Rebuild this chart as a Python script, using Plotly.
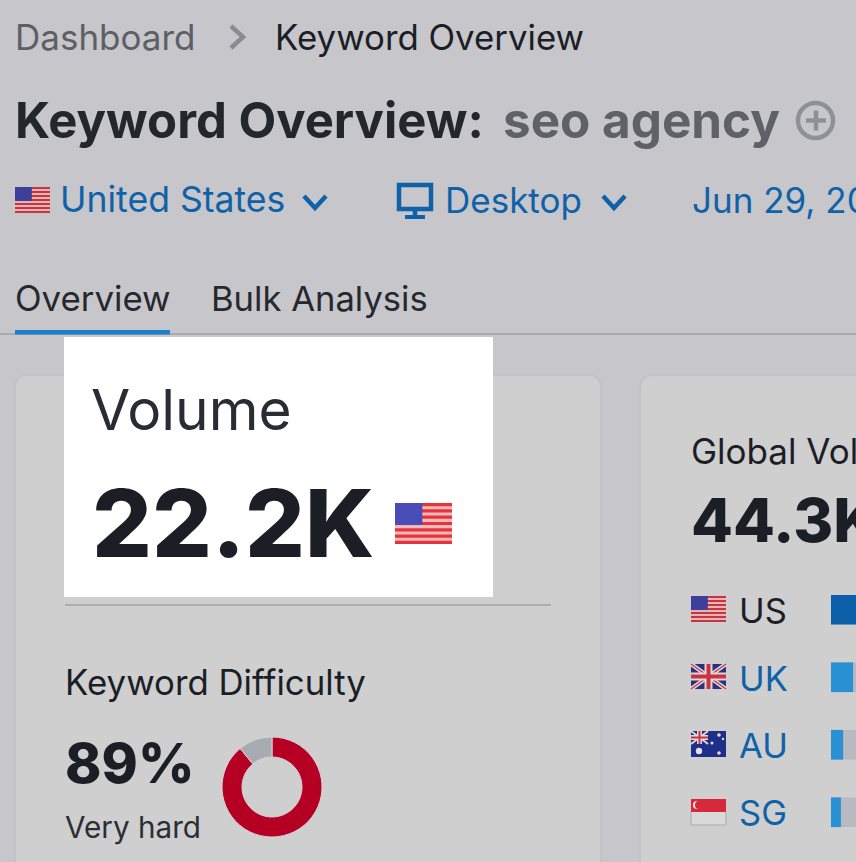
import plotly.graph_objects as go

# Data
difficulty_labels = ["Difficulty", "Remainder"]
difficulty_values = [89, 11]
countries = ["US", "UK", "AU", "SG"]
country_volume_k = [22.2, 4.9, 2.7, 2.2]
country_track_k = [22.2, 22.2, 22.2, 22.2]

FONT = "Inter"
DARK = "#1c1e26"
BLUE = "#0f62a8"
GREY = "#5e5f66"
PAD = 3  # annotation box padding

W, H = 856, 862
shapes, notes = [], []

def rect(x0, y0, x1, y1, color, layer="below"):
    shapes.append(dict(type="rect", x0=x0, y0=y0, x1=x1, y1=y1, xref="x", yref="y",
                       fillcolor=color, line_width=0, layer=layer))

def line(x0, y0, x1, y1, color, w=1.5, layer="below"):
    shapes.append(dict(type="line", x0=x0, y0=y0, x1=x1, y1=y1, xref="x", yref="y",
                       line=dict(color=color, width=w), layer=layer))

def polyline(pts, color, w=3):
    p = "M" + " L".join(f"{a},{b}" for a, b in pts)
    shapes.append(dict(type="path", path=p, xref="x", yref="y",
                       line=dict(color=color, width=w), layer="below"))

def card(x0, y0, x1, y1, r, fill, edge):
    p = (f"M{x0+r},{y0} L{x1-r},{y0} Q{x1},{y0} {x1},{y0+r} L{x1},{y1-r} Q{x1},{y1} {x1-r},{y1} "
         f"L{x0+r},{y1} Q{x0},{y1} {x0},{y1-r} L{x0},{y0+r} Q{x0},{y0} {x0+r},{y0} Z")
    shapes.append(dict(type="path", path=p, xref="x", yref="y", fillcolor=fill,
                       line=dict(color=edge, width=1.5), layer="below"))

def text(x, y, s, size, color=DARK, weight=400):
    notes.append(dict(x=x - PAD, y=y, xref="x", yref="y", text=s, showarrow=False, xanchor="left",
                      yanchor="middle", align="left",
                      font=dict(family=FONT, size=size, color=color, weight=weight)))

def flag_us(x0, y0, x1, y1, red="#c8343f", pale="#e4b6b6", navy="#3d3f9a"):
    rect(x0, y0, x1, y1, pale)
    n = 13
    h = (y1 - y0) / n
    for i in range(0, n, 2):
        rect(x0, y0 + i * h, x1, y0 + (i + 1) * h, red)
    rect(x0, y0, x0 + (x1 - x0) * 0.48, y0 + 7 * h, navy)

def flag_uk(x0, y0, x1, y1):
    rect(x0, y0, x1, y1, "#27337f")
    line(x0, y0, x1, y1, "#e3d5d8", 4)
    line(x0, y1, x1, y0, "#e3d5d8", 4)
    line(x0, y0, x1, y1, "#c8343f", 1.2)
    line(x0, y1, x1, y0, "#c8343f", 1.2)
    xc, yc = (x0 + x1) / 2, (y0 + y1) / 2
    rect(xc - 4, y0, xc + 4, y1, "#e3d5d8")
    rect(x0, yc - 4, x1, yc + 4, "#e3d5d8")
    rect(xc - 2, y0, xc + 2, y1, "#c8343f")
    rect(x0, yc - 2, x1, yc + 2, "#c8343f")

def flag_au(x0, y0, x1, y1):
    rect(x0, y0, x1, y1, "#1d2f86")
    xm, ym = x0 + 17, y0 + 13
    line(x0, y0, xm, ym, "#e3d5d8", 2)
    line(x0, ym, xm, y0, "#e3d5d8", 2)
    rect((x0 + xm) / 2 - 2.5, y0, (x0 + xm) / 2 + 2.5, ym, "#e3d5d8")
    rect(x0, (y0 + ym) / 2 - 2.5, xm, (y0 + ym) / 2 + 2.5, "#e3d5d8")
    rect((x0 + xm) / 2 - 1, y0, (x0 + xm) / 2 + 1, ym, "#c8343f")
    rect(x0, (y0 + ym) / 2 - 1, xm, (y0 + ym) / 2 + 1, "#c8343f")
    for cx, cy, r in [(x0 + 8, y0 + 20, 3.2), (x0 + 28, y0 + 4, 1.8), (x0 + 32, y0 + 8, 1.2),
                      (x0 + 21, y0 + 12, 1.5), (x0 + 28, y0 + 22, 1.8)]:
        shapes.append(dict(type="circle", x0=cx - r, x1=cx + r, y0=cy - r, y1=cy + r, xref="x", yref="y",
                           fillcolor="#dfe0ea", line_width=0, layer="below"))

def flag_sg(x0, y0, x1, y1):
    ym = (y0 + y1) / 2
    rect(x0, y0, x1, ym, "#d62a3a")
    rect(x0, ym, x1, y1, "#d9d9d9")
    line(x0, y1, x1, y1, "#aaaaaa", 1)
    line(x0, ym, x0, y1, "#aaaaaa", 1)
    line(x1, ym, x1, y1, "#aaaaaa", 1)
    shapes.append(dict(type="circle", x0=x0 + 2, x1=x0 + 10, y0=y0 + 2, y1=y0 + 10, xref="x", yref="y",
                       fillcolor="#eeeeee", line_width=0, layer="below"))
    shapes.append(dict(type="circle", x0=x0 + 4, x1=x0 + 11, y0=y0 + 2, y1=y0 + 10, xref="x", yref="y",
                       fillcolor="#d62a3a", line_width=0, layer="below"))

# Page chrome
card(15, 375, 601, 900, 14, "#cfcfcf", "#c0c0c5")
card(640, 375, 900, 900, 14, "#cfcfcf", "#c0c0c5")
line(0, 334, W, 334, "#a0a0a6", 1.5)
rect(15, 330, 170, 334.5, "#1b7fcc")
rect(64, 337, 493, 597, "#ffffff")
line(65, 605, 551, 605, "#a2a2a2", 1.5)

# Header
text(16, 36.5, "Dashboard", 35, GREY)
polyline([(231, 26), (243, 37), (231, 48)], "#8a8b91", 4.5)
text(276, 36.5, "Keyword Overview", 34.8, DARK)
text(16, 120, "Keyword Overview:", 49, "#24262c", 700)
text(504, 120, "seo agency", 49.4, "#606167", 700)
shapes.append(dict(type="circle", x0=798, x1=833, y0=103, y1=138, xref="x", yref="y",
                   fillcolor="rgba(0,0,0,0)", line=dict(color="#8f9096", width=4.5), layer="below"))
line(806, 120.5, 826, 120.5, "#8f9096", 4.5)
line(816, 110.5, 816, 130.5, "#8f9096", 4.5)

flag_us(15, 187, 50, 213)
text(61, 199.5, "United States", 35.6, BLUE)
polyline([(304, 196), (315, 208), (326, 196)], BLUE, 4.5)
shapes.append(dict(type="rect", x0=399, x1=431, y0=185, y1=209, xref="x", yref="y",
                   fillcolor="rgba(0,0,0,0)", line=dict(color=BLUE, width=4.5), layer="below"))
line(415, 209, 415, 216, BLUE, 4.5)
line(405, 217, 425, 217, BLUE, 4)
text(446, 199.5, "Desktop", 35, BLUE)
polyline([(603, 196), (614, 208), (625, 196)], BLUE, 4.5)
text(693, 199.5, "Jun 29, 20", 35, BLUE)

text(16, 297.5, "Overview", 34.8, "#26282e")
text(212, 297.5, "Bulk Analysis", 34.6, "#26282e")

# Volume card
text(92, 409, "Volume", 56.8, "#2a2c33")
text(93, 523, "22.2K", 94, DARK, 800)
flag_us(395, 503, 452, 544, "#e8333d", "#f6bcbc", "#4a4db8")

# Difficulty
text(66, 682, "Keyword Difficulty", 34.8, DARK)
text(66, 763, "89%", 55, DARK, 800)
text(66, 827, "Very hard", 29.7, "#2c2e35")

# Global volume
text(692, 451, "Global Vol", 35, DARK)
text(692, 520, "44.3K", 61, DARK, 800)
flag_us(691, 596, 726, 622)
flag_uk(691, 664, 726, 689)
flag_au(691, 731, 726, 757)
flag_sg(691, 799, 726, 825)
for yy, name, col in zip([610, 678, 745, 812], countries, [DARK, BLUE, BLUE, BLUE]):
    text(740, yy, name, 34.5, col)

fig = go.Figure()
# Country bars: track, then volume
fig.add_trace(go.Bar(y=countries, x=country_track_k, orientation="h", xaxis="x2", yaxis="y2",
                     width=0.44, marker=dict(color="#b9b9c2", line_width=0), showlegend=False))
fig.add_trace(go.Bar(y=countries, x=country_volume_k, orientation="h", xaxis="x2", yaxis="y2",
                     width=0.44, marker=dict(color=["#0a5fa8", "#2a90d4", "#2a90d4", "#2a90d4"], line_width=0),
                     showlegend=False))
# Difficulty donut
fig.add_trace(go.Pie(labels=difficulty_labels, values=difficulty_values, hole=0.6, sort=False,
                     direction="clockwise", rotation=0, textinfo="none", showlegend=False,
                     marker=dict(colors=["#b50024", "#a9abb3"], line=dict(color="#d2d2d2", width=1)),
                     domain=dict(x=[222 / W, 322 / W], y=[(H - 837) / H, (H - 737) / H])))

hidden = dict(visible=False, fixedrange=True)
fig.update_layout(
    width=W, height=H, margin=dict(l=0, r=0, t=0, b=0), autosize=False,
    paper_bgcolor="#c6c6cb", plot_bgcolor="rgba(0,0,0,0)", barmode="overlay",
    xaxis=dict(range=[0, W], domain=[0, 1], **hidden),
    yaxis=dict(range=[H, 0], domain=[0, 1], **hidden),
    xaxis2=dict(range=[0, 5.55], domain=[831 / W, 1], anchor="y2", **hidden),
    yaxis2=dict(categoryorder="array", categoryarray=countries, range=[3.5, -0.5],
                domain=[(H - 846) / H, (H - 576) / H], anchor="x2", **hidden),
    shapes=shapes, annotations=notes, font=dict(family=FONT),
)
fig.write_html("out.html", config=dict(displayModeBar=False),
               post_script="document.body.style.margin='0';")
